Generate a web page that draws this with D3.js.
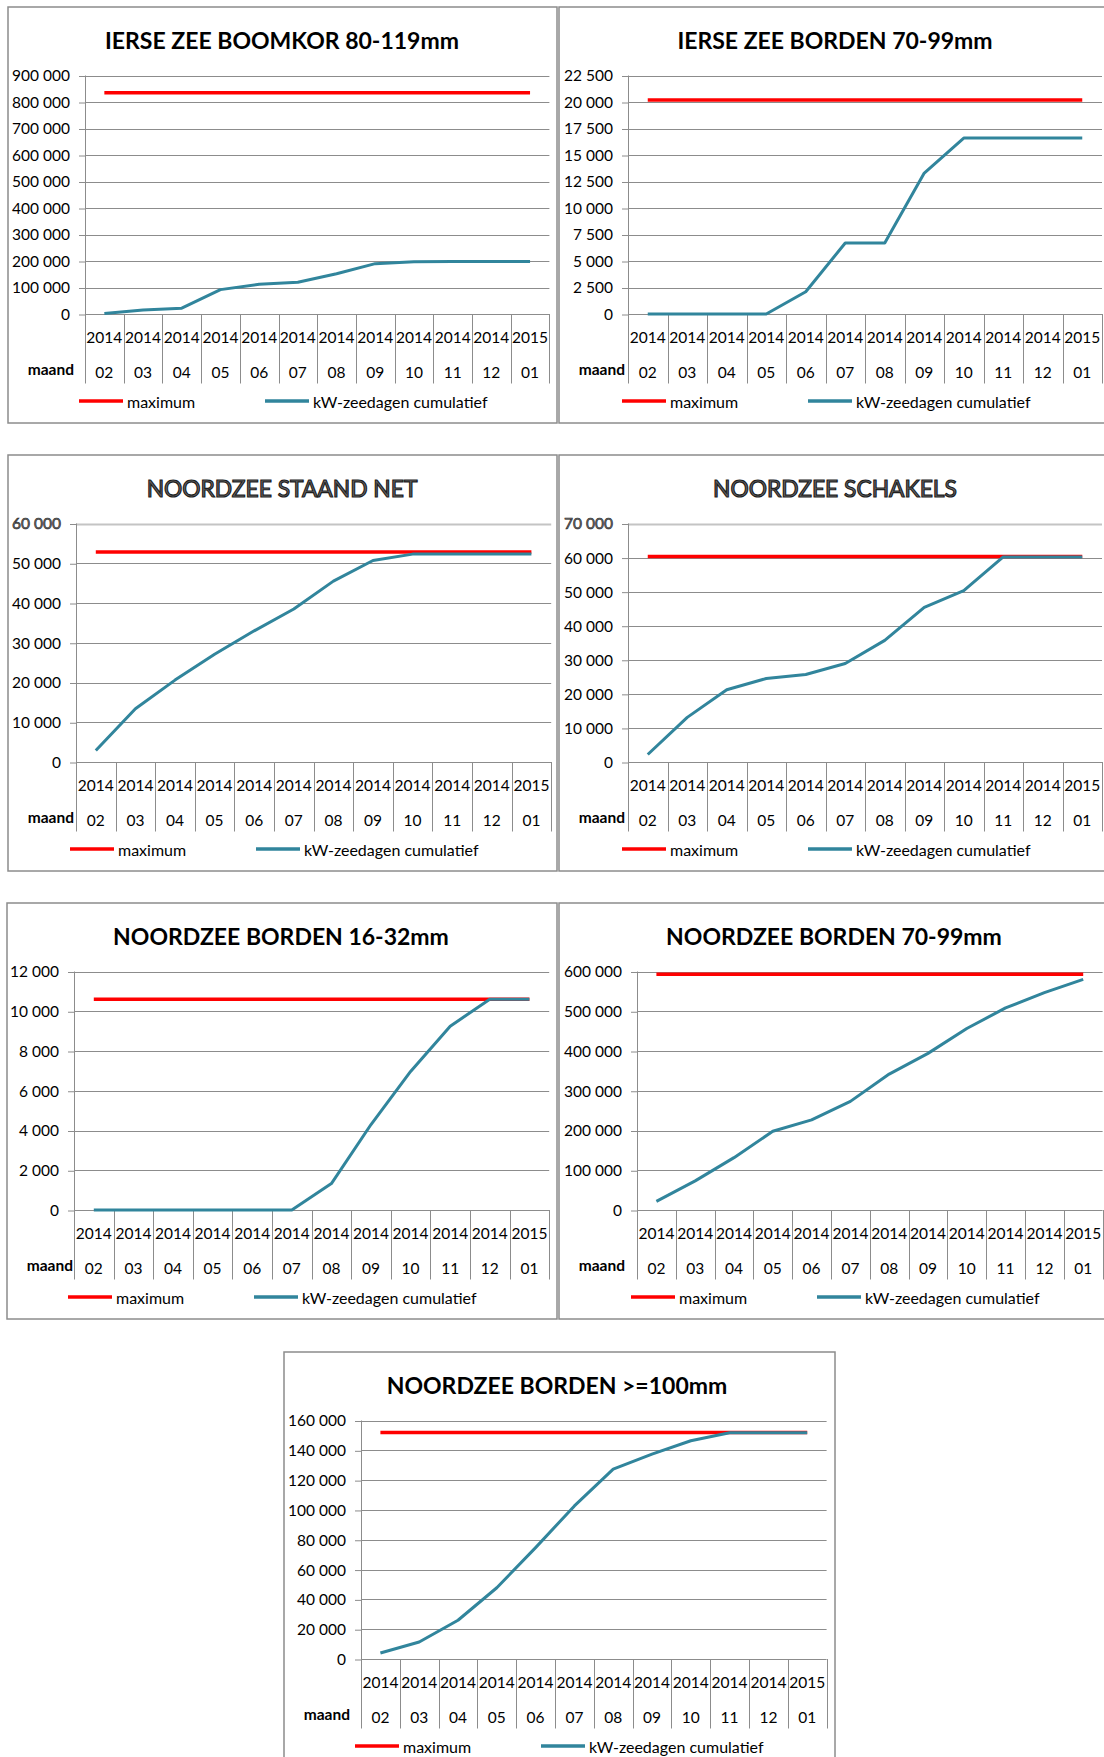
<!DOCTYPE html>
<html>
<head>
<meta charset="utf-8">
<script src="https://cdn.jsdelivr.net/npm/d3@7/dist/d3.min.js"></script>
<style>
body { margin: 0; background: #fff; }
svg { display: block; font-family: Lato, "Open Sans", sans-serif; }
</style>
</head>
<body>
<div id="chart"></div>
<script>

//====================DATA===================

const years  = ['2014','2014','2014','2014','2014','2014','2014','2014','2014','2014','2014','2015'];
const months = ['02','03','04','05','06','07','08','09','10','11','12','01'];

const legendLabels = ['maximum', 'kW-zeedagen cumulatief'];

// kW-zeedagen cumulatief per maand
const ierseBoomkor   = [2000, 15000, 22000, 92000, 112000, 120000, 152000, 190000, 197000, 198000, 198000, 198000];
const ierseBorden    = [0, 0, 0, 0, 2100, 6700, 6700, 13300, 16600, 16600, 16600, 16600];
const staandNet      = [2900, 13400, 20600, 27100, 33000, 38500, 45500, 50700, 52300, 52300, 52300, 52300];
const schakels       = [2200, 13100, 21200, 24500, 25700, 28900, 35700, 45400, 50300, 60200, 60200, 60200];
const borden16_32    = [0, 0, 0, 0, 0, 0, 1330, 4300, 6970, 9250, 10600, 10600];
const borden70_99    = [21700, 73300, 131700, 198000, 226700, 273300, 342000, 394000, 456700, 508300, 546700, 580000];
const borden100      = [4000, 11400, 26000, 47800, 74700, 102700, 127400, 137400, 146400, 151800, 151800, 151800];

// maximum per segment
const maxIerseBoomkor = 835000;
const maxIerseBorden  = 20200;
const maxStaandNet    = 52800;
const maxSchakels     = 60300;
const maxBorden16_32  = 10600;
const maxBorden70_99  = 593000;
const maxBorden100    = 152000;

// y-axis tick values per chart
const ticksIerseBoomkor = d3.range(0, 900001, 100000);
const ticksIerseBorden  = d3.range(0, 22501, 2500);
const ticksStaandNet    = d3.range(0, 60001, 10000);
const ticksSchakels     = d3.range(0, 70001, 10000);
const ticksBorden16_32  = d3.range(0, 12001, 2000);
const ticksBorden70_99  = d3.range(0, 600001, 100000);
const ticksBorden100    = d3.range(0, 160001, 20000);

//====================LAYOUT===================

const width = 1104, height = 1757;
const red = '#ff0000', teal = '#31859c', grid = '#8c8c8c';

const panels = [
  {title: 'IERSE ZEE BOOMKOR 80-119mm', values: ierseBoomkor, max: maxIerseBoomkor, ticks: ticksIerseBoomkor,
   bx: 8, by: 7, bw: 549, bh: 416, axisX: 85, band: 38.7, titleX: 282},
  {title: 'IERSE ZEE BORDEN 70-99mm', values: ierseBorden, max: maxIerseBorden, ticks: ticksIerseBorden,
   bx: 559, by: 7, bw: 560, bh: 416, axisX: 628, band: 39.5, titleX: 835},
  {title: 'NOORDZEE STAAND NET', values: staandNet, max: maxStaandNet, ticks: ticksStaandNet,
   bx: 8, by: 455, bw: 549, bh: 416, axisX: 76, band: 39.6, titleX: 282, outline: true},
  {title: 'NOORDZEE SCHAKELS', values: schakels, max: maxSchakels, ticks: ticksSchakels,
   bx: 559, by: 455, bw: 560, bh: 416, axisX: 628, band: 39.5, titleX: 835, outline: true},
  {title: 'NOORDZEE BORDEN 16-32mm', values: borden16_32, max: maxBorden16_32, ticks: ticksBorden16_32,
   bx: 7, by: 903, bw: 550, bh: 416, axisX: 74, band: 39.6, titleX: 281},
  {title: 'NOORDZEE BORDEN 70-99mm', values: borden70_99, max: maxBorden70_99, ticks: ticksBorden70_99,
   bx: 559, by: 903, bw: 560, bh: 416, axisX: 637, band: 38.8, titleX: 834},
  {title: 'NOORDZEE BORDEN >=100mm', values: borden100, max: maxBorden100, ticks: ticksBorden100,
   bx: 284, by: 1352, bw: 551, bh: 450, axisX: 361, band: 38.8, titleX: 557}
];

const fmt = v => d3.format(',')(v).replace(/,/g, ' ');

const svg = d3.select('#chart')
.append('svg')
.attr('width', width)
.attr('height', height);

svg.append('rect')
.attr('width', width)
.attr('height', height)
.attr('fill', '#fff');

//====================DRAW===================

panels.forEach(p => {

  const g = svg.append('g');

  g.append('rect')
  .attr('x', p.bx)
  .attr('y', p.by)
  .attr('width', p.bw)
  .attr('height', p.bh)
  .attr('fill', '#fff')
  .attr('stroke', '#8c8c8c')
  .attr('stroke-width', 1.5);

  const top = p.by + 68.5;
  const zero = p.by + 307;
  const yearY = p.by + 330;
  const monthY = p.by + 365;
  const catBottom = p.by + 376.5;
  const legendY = p.by + 394;

  const x = d3.scaleBand()
  .domain(d3.range(months.length))
  .range([p.axisX, p.axisX + p.band * months.length]);

  const y = d3.scaleLinear()
  .domain([0, d3.max(p.ticks)])
  .range([zero, top]);

  const right = Math.min(x.range()[1], width);

  // title
  const title = g.append('text')
  .attr('x', p.titleX)
  .attr('y', p.by + 33)
  .attr('text-anchor', 'middle')
  .attr('dominant-baseline', 'central')
  .text(p.title);

  if (p.outline) {
    // outlined (WordArt-like) titles in the middle row
    title.attr('font-size', 22.8).attr('fill', '#6e6e6e').attr('stroke', '#1e1e1e').attr('stroke-width', 1.2);
  } else {
    title.attr('font-size', 23).attr('font-weight', 700).attr('fill', '#000');
  }

  // gridlines
  g.selectAll('.grid')
  .data(p.ticks)
  .enter()
  .append('line')
  .attr('x1', p.axisX)
  .attr('x2', right)
  .attr('y1', d => Math.round(y(d)) + 0.5)
  .attr('y2', d => Math.round(y(d)) + 0.5)
  .attr('stroke', (d, i) => p.outline && i === p.ticks.length - 1 ? '#c4c4c4' : grid)
  .attr('stroke-width', (d, i) => p.outline && i === p.ticks.length - 1 ? 2 : 1);

  // y axis labels + small outer ticks
  const yAxis = g.append('g')
  .attr('transform', `translate(${p.axisX},0.5)`)
  .call(d3.axisLeft(y).tickValues(p.ticks).tickSize(6).tickPadding(9).tickFormat(fmt));

  yAxis.select('.domain').remove();
  yAxis.selectAll('.tick line').attr('stroke', grid);
  yAxis.selectAll('.tick text')
  .attr('font-family', 'Lato, "Open Sans", sans-serif')
  .attr('font-size', 15.5)
  .attr('fill', '#000');

  if (p.outline) {
    yAxis.selectAll('.tick text')
    .filter((d, i) => i === p.ticks.length - 1)
    .attr('fill', '#6e6e6e')
    .attr('stroke', '#1e1e1e')
    .attr('stroke-width', 0.6);
  }

  // y axis line
  g.append('line')
  .attr('x1', p.axisX + 0.5)
  .attr('x2', p.axisX + 0.5)
  .attr('y1', top)
  .attr('y2', catBottom)
  .attr('stroke', grid);

  // category dividers
  g.selectAll('.divider')
  .data(d3.range(1, months.length + 1))
  .enter()
  .append('line')
  .attr('x1', d => Math.round(x.range()[0] + d * x.step()) + 0.5)
  .attr('x2', d => Math.round(x.range()[0] + d * x.step()) + 0.5)
  .attr('y1', zero)
  .attr('y2', catBottom)
  .attr('stroke', grid);

  // category labels
  g.selectAll('.year')
  .data(years)
  .enter()
  .append('text')
  .attr('x', (d, i) => x(i) + x.bandwidth() / 2)
  .attr('y', yearY)
  .attr('text-anchor', 'middle')
  .attr('dominant-baseline', 'central')
  .attr('font-size', 15.5)
  .text(d => d);

  g.selectAll('.month')
  .data(months)
  .enter()
  .append('text')
  .attr('x', (d, i) => x(i) + x.bandwidth() / 2)
  .attr('y', monthY)
  .attr('text-anchor', 'middle')
  .attr('dominant-baseline', 'central')
  .attr('font-size', 15.5)
  .text(d => d);

  g.append('text')
  .attr('x', p.bx + 66)
  .attr('y', monthY - 3)
  .attr('text-anchor', 'end')
  .attr('dominant-baseline', 'central')
  .attr('font-size', 15.5)
  .attr('font-weight', 700)
  .text('maand');

  // maximum line
  const cx = i => x(i) + x.bandwidth() / 2;

  g.append('line')
  .attr('x1', cx(0))
  .attr('x2', cx(months.length - 1))
  .attr('y1', y(p.max))
  .attr('y2', y(p.max))
  .attr('stroke', red)
  .attr('stroke-width', 3.5);

  // cumulative line
  const line = d3.line()
  .x((d, i) => cx(i))
  .y(d => y(d));

  g.append('path')
  .datum(p.values)
  .attr('d', line)
  .attr('fill', 'none')
  .attr('stroke', teal)
  .attr('stroke-width', 3)
  .attr('stroke-linejoin', 'round');

  // legend
  const legend = [
    {label: legendLabels[0], color: red, x0: p.axisX - 6},
    {label: legendLabels[1], color: teal, x0: p.axisX + 180}
  ];

  legend.forEach(l => {
    g.append('line')
    .attr('x1', l.x0)
    .attr('x2', l.x0 + 44)
    .attr('y1', legendY)
    .attr('y2', legendY)
    .attr('stroke', l.color)
    .attr('stroke-width', 3.5);

    g.append('text')
    .attr('x', l.x0 + 48)
    .attr('y', legendY)
    .attr('dominant-baseline', 'central')
    .attr('font-size', 16)
    .text(l.label);
  });

});

</script>
</body>
</html>
